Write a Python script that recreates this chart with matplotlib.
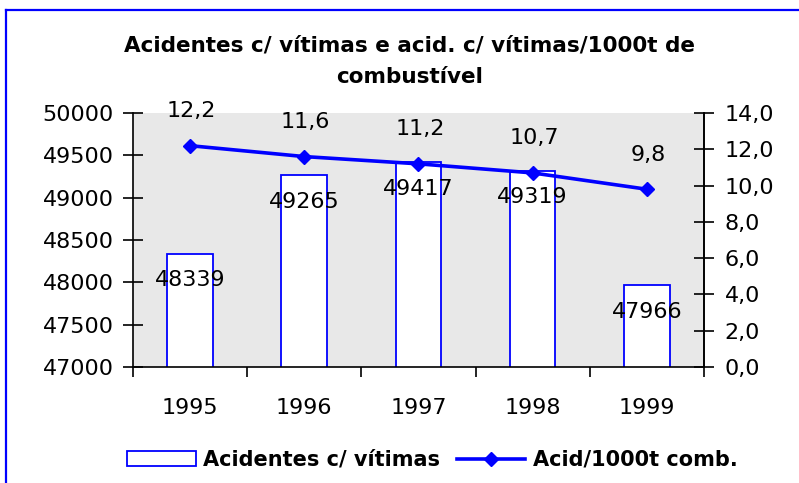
"""
Accidents with victims and accidents per 1000t of fuel, 1995-1999.
"""

import matplotlib
matplotlib.use('Agg')
import matplotlib.pyplot as plt
from matplotlib.lines import Line2D
from matplotlib.patches import Patch
from matplotlib.ticker import FixedLocator, FuncFormatter


YEARS = ['1995', '1996', '1997', '1998', '1999']
ACCIDENTS = [48339, 49265, 49417, 49319, 47966]
ACCIDENTS_PER_1000T = [12.2, 11.6, 11.2, 10.7, 9.8]

TITLE = 'Acidentes c/ vítimas e acid. c/ vítimas/1000t de\ncombustível'
BAR_LABEL = 'Acidentes c/ vítimas'
LINE_LABEL = 'Acid/1000t comb.'

BLUE = '#0000FF'
GRAY = '#E8E8E8'
NUM_FONT = 'DejaVu Sans'
NUM_SIZE = 16


def comma(value, decimals=1):
    return f'{value:.{decimals}f}'.replace('.', ',')


def main():

    fig = plt.figure(figsize=(7.99, 4.83), dpi=100)
    ax = fig.add_axes([0.1665, 0.240, 0.7145, 0.526])
    ax2 = ax.twinx()

    x = list(range(len(YEARS)))

    # Bars (left axis).
    ax.set_facecolor(GRAY)
    ax.bar(x, ACCIDENTS, width=0.4, color='white', edgecolor=BLUE,
           linewidth=1.3, zorder=2)
    ax.set_xlim(-0.5, len(YEARS) - 0.5)
    ax.set_ylim(47000, 50000)
    ax.set_yticks(range(47000, 50001, 500))
    ax.tick_params(axis='y', direction='inout', length=14, width=1.2,
                   pad=7, labelsize=NUM_SIZE)
    for label in ax.get_yticklabels():
        label.set_fontfamily(NUM_FONT)

    ax.xaxis.set_major_locator(FixedLocator(
        [i - 0.5 for i in range(len(YEARS) + 1)]))
    ax.xaxis.set_major_formatter(FuncFormatter(lambda v, p: ''))
    ax.xaxis.set_minor_locator(FixedLocator(x))
    ax.set_xticklabels(YEARS, minor=True, fontsize=NUM_SIZE,
                       fontfamily=NUM_FONT)
    ax.tick_params(axis='x', which='major', direction='out', length=7,
                   width=1.2)
    ax.tick_params(axis='x', which='minor', length=0, pad=22)

    for xi, value in zip(x, ACCIDENTS):
        ax.annotate(str(value), (xi, value), xytext=(0, -19),
                    textcoords='offset points', ha='center', va='center',
                    fontsize=NUM_SIZE, fontfamily=NUM_FONT, zorder=3)

    # Line (right axis).
    ax2.plot(x, ACCIDENTS_PER_1000T, color=BLUE, linewidth=2.6,
             marker='D', markersize=7.5, zorder=4)
    ax2.set_ylim(0, 14)
    ax2.set_yticks(range(0, 15, 2))
    ax2.yaxis.set_major_formatter(FuncFormatter(lambda v, p: comma(v)))
    ax2.tick_params(axis='y', direction='inout', length=14, width=1.2,
                    pad=8, labelsize=NUM_SIZE)
    for label in ax2.get_yticklabels():
        label.set_fontfamily(NUM_FONT)

    for xi, value in zip(x, ACCIDENTS_PER_1000T):
        ax2.annotate(comma(value), (xi, value), xytext=(1, 25),
                     textcoords='offset points', ha='center', va='center',
                     fontsize=NUM_SIZE, fontfamily=NUM_FONT)

    for axes in (ax, ax2):
        axes.spines['top'].set_visible(False)
        for side in ('left', 'right', 'bottom'):
            axes.spines[side].set_linewidth(1.2)
    ax2.spines['left'].set_visible(False)
    ax2.spines['bottom'].set_visible(False)

    # Title and legend.
    fig.text(0.512, 0.873, TITLE, ha='center', va='center',
             fontsize=15.5, fontweight='bold', fontfamily='DejaVu Sans',
             linespacing=1.7)

    handles = [
        Patch(facecolor='white', edgecolor=BLUE, linewidth=1.3),
        Line2D([], [], color=BLUE, linewidth=2.6, marker='D',
               markersize=7.5)]
    fig.legend(handles, [BAR_LABEL, LINE_LABEL], loc='center',
               bbox_to_anchor=(0.541, 0.048), ncol=2, frameon=False,
               prop={'family': 'DejaVu Sans', 'weight': 'bold', 'size': 15},
               handlelength=3.3, handletextpad=0.35, columnspacing=0.8)

    # Chart border (only top and left edges fall inside the picture).
    fig.add_artist(Line2D([5.5 / 799, 5.5 / 799], [0, 1 - 10 / 483],
                          transform=fig.transFigure, color=BLUE,
                          linewidth=1.6))
    fig.add_artist(Line2D([5.5 / 799, 1], [1 - 10 / 483, 1 - 10 / 483],
                          transform=fig.transFigure, color=BLUE,
                          linewidth=1.6))

    fig.savefig('out.png', dpi=100)
    plt.close(fig)


if __name__ == '__main__':
    main()
